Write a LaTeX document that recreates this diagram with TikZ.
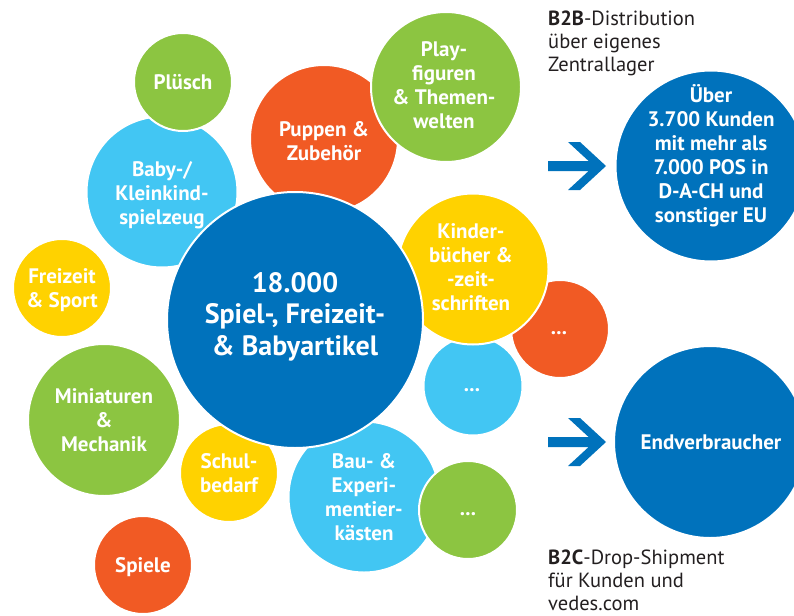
\documentclass[tikz,border=0pt]{standalone}
\usepackage{fontspec}
\setmainfont{PT Sans}

\definecolor{vblue}{HTML}{0072BC}
\definecolor{vsky}{HTML}{42C6F3}
\definecolor{vgreen}{HTML}{8CC541}
\definecolor{vorange}{HTML}{F15A24}
\definecolor{vyellow}{HTML}{FFD200}
\definecolor{vtext}{HTML}{231F20}

\begin{document}
\begin{tikzpicture}[x=1pt,y=-1pt,
  disc/.style={circle, draw=white, line width=2pt, inner sep=0pt, minimum size=#1},
  bubbletext/.style={text=white, font=\bfseries\fontsize{21}{24}\selectfont, align=center, inner sep=0pt},
  bigtext/.style={text=white, font=\bfseries\fontsize{28}{31.5}\selectfont, align=center, inner sep=0pt},
  caption/.style={text=vtext, font=\fontsize{20.5}{23}\selectfont, align=left, inner sep=0pt, anchor=north west},
  arrowfill/.style={fill=vblue}]

\useasboundingbox (0,0) rectangle (794,615);

% product range bubbles, back to front
\node[disc=151pt, fill=vsky]    (baby)     at (162,192) {};
\node[disc=98pt,  fill=vgreen]  (pluesch)  at (183,82)  {};
\node[disc=148pt, fill=vorange] (puppen)   at (324,139) {};
\node[disc=150pt, fill=vgreen]  (play)     at (446,87)  {};
\node[disc=98pt,  fill=vorange] (more-o)   at (560,329) {};
\node[disc=99pt,  fill=vsky]    (more-s)   at (473,386) {};
\node[disc=151pt, fill=vyellow] (kinder)   at (473,269) {};
\node[disc=151pt, fill=vsky]    (bau)      at (364,497) {};
\node[disc=98pt,  fill=vgreen]  (more-g)   at (468,510) {};
\node[disc=98pt,  fill=vyellow] (schul)    at (229,473) {};
\node[disc=256pt, fill=vblue]   (main)     at (295,320) {};
\node[disc=98pt,  fill=vyellow] (freizeit) at (62,288)  {};
\node[disc=152pt, fill=vgreen]  (mini)     at (104,420) {};
\node[disc=98pt,  fill=vorange] (spiele)   at (143,565) {};

% sales channels
\node[disc=191pt, fill=vblue] (kunden) at (711,166) {};
\node[disc=192pt, fill=vblue] (endv)   at (710,442) {};

% bubble labels
\node[bubbletext] (t-pluesch)  at (183,82.5)  {Plüsch};
\node[bubbletext] (t-play)     at (444,85)    {Play-\\figuren\\\& Themen-\\welten};
\node[bubbletext] (t-puppen)   at (324,141.5) {Puppen \&\\Zubehör};
\node[bubbletext] (t-baby)     at (162,195)   {Baby-/\\Kleinkind-\\spielzeug};
\node[bigtext]    (t-main)     at (295,316.5) {18.000\\Spiel-, Freizeit-\\\& Babyartikel};
\node[bubbletext] (t-freizeit) at (62,290)    {Freizeit\\\& Sport};
\node[bubbletext] (t-kinder)   at (471,267.5) {Kinder-\\bücher \&\\-zeit-\\schriften};
\node[bubbletext] (t-more-o)   at (559,333)   {...};
\node[bubbletext] (t-more-s)   at (472,390)   {...};
\node[bubbletext] (t-mini)     at (104,420)   {Miniaturen\\\&\\Mechanik};
\node[bubbletext] (t-schul)    at (229,473)   {Schul-\\bedarf};
\node[bubbletext] (t-bau)      at (364,497.5) {Bau- \&\\Experi-\\mentier-\\kästen};
\node[bubbletext] (t-more-g)   at (468,514)   {...};
\node[bubbletext] (t-spiele)   at (143,566.8) {Spiele};
\node[bubbletext] (t-kunden)   at (711,156)   {Über\\3.700 Kunden\\mit mehr als\\7.000 POS in\\D-A-CH und\\sonstiger EU};
\node[bubbletext] (t-endv)     at (711,442.5) {Endverbraucher};

% channel arrows
\coordinate (b2b-arrow) at (548,166);
\coordinate (b2c-arrow) at (548,442);
\foreach \a in {b2b-arrow,b2c-arrow}
  \fill[arrowfill] (\a) +(0,-5) -- +(40.6,-5) -- +(20,-24) -- +(32,-24) -- +(58,0)
        -- +(32,24) -- +(20,24) -- +(40.6,5) -- +(0,5) -- cycle;

% channel captions
\node[caption] (b2b) at (548,10.5)  {\textbf{B2B}-Distribution\\über eigenes\\Zentrallager};
\node[caption] (b2c) at (548,549.5) {\textbf{B2C}-Drop-Shipment\\für Kunden und\\vedes.com};

\end{tikzpicture}
\end{document}
